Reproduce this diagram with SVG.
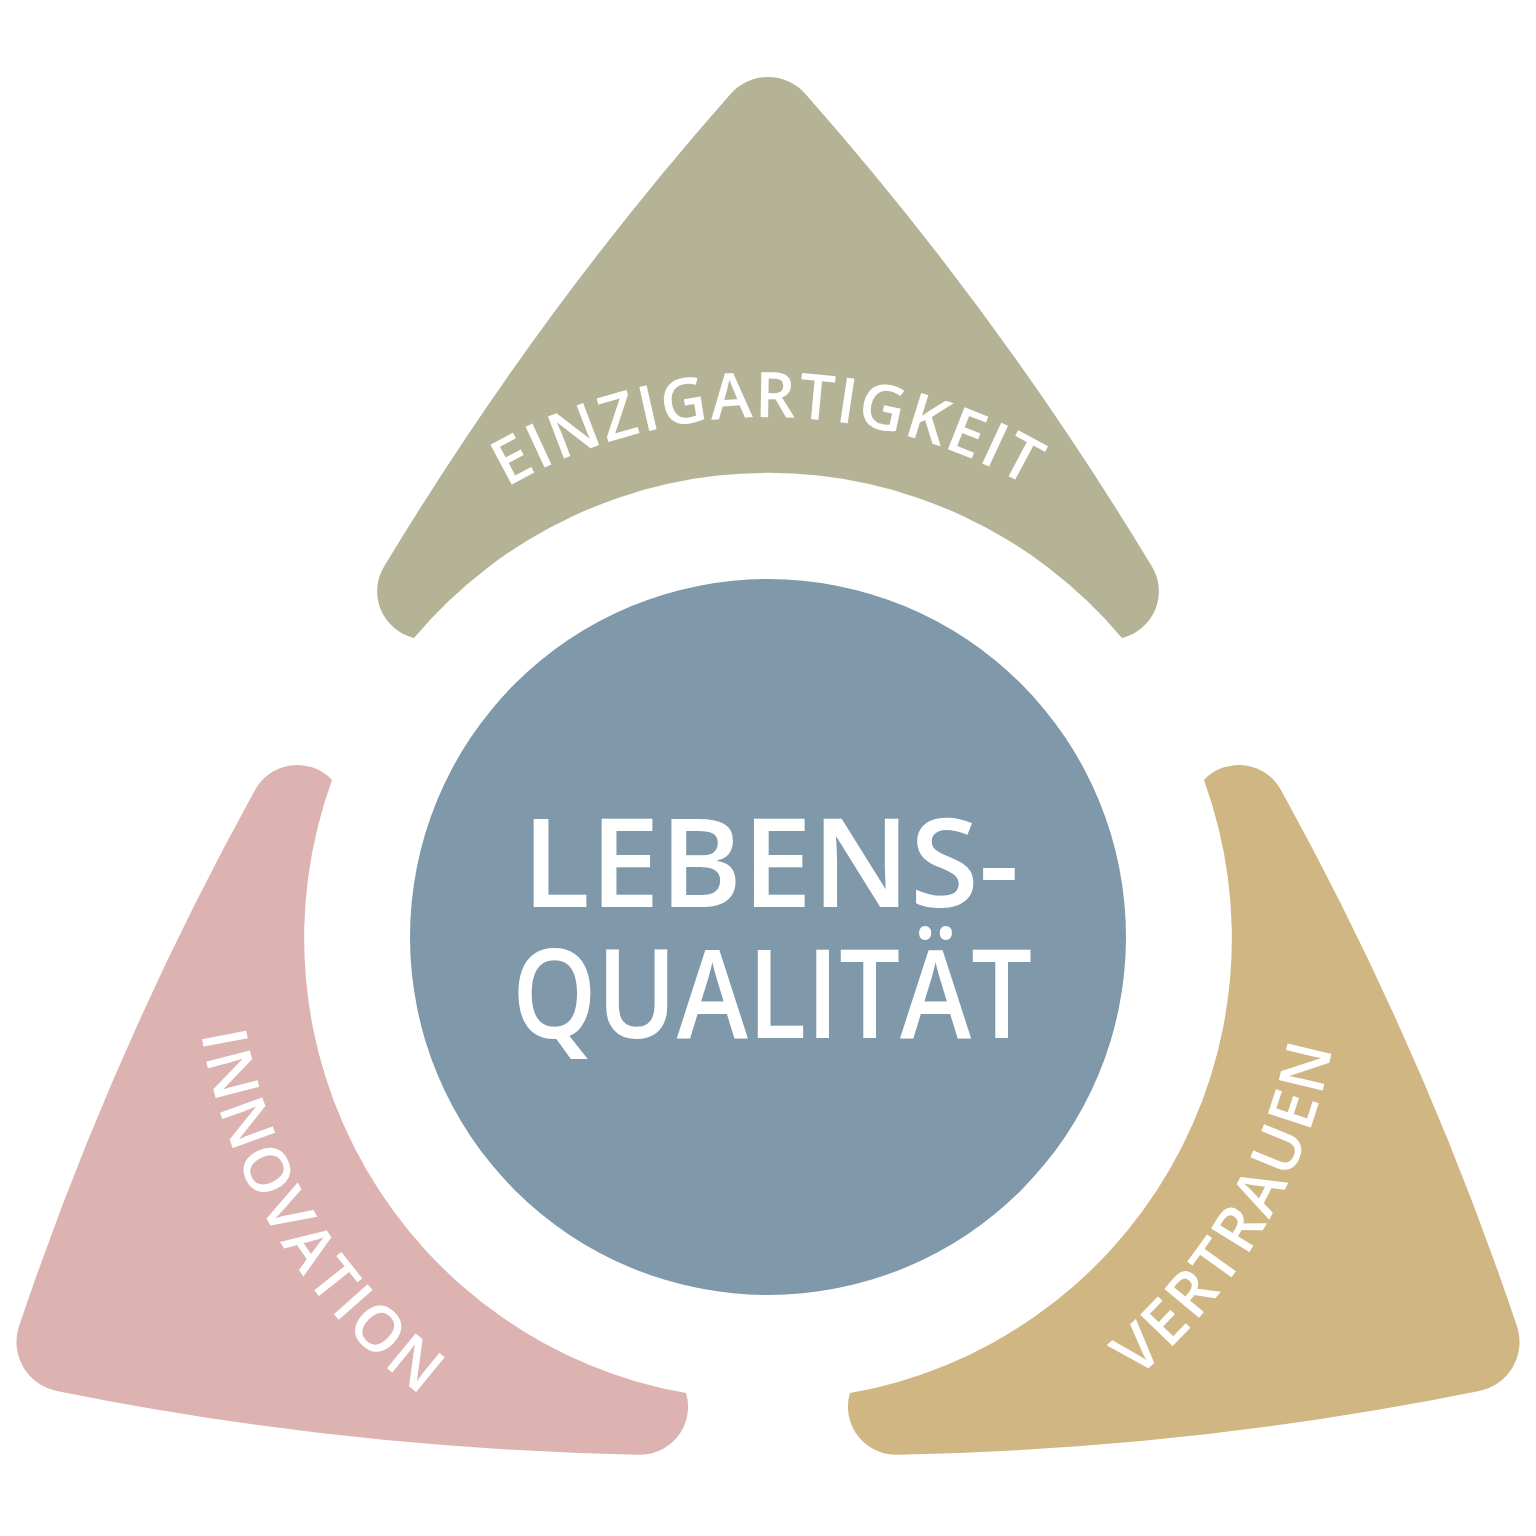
<svg xmlns="http://www.w3.org/2000/svg" xmlns:xlink="http://www.w3.org/1999/xlink" width="1536" height="1536" viewBox="0 0 1536 1536">
<style>
.bg{fill:#ffffff}
.olive{fill:#B5B395}
.rose{fill:#DCB3B1}
.sand{fill:#D0B682}
.core{fill:#7F98AA}
.lbl{fill:#ffffff;font-family:"Open Sans","Liberation Sans",sans-serif;font-size:63px;font-weight:600}
.big{fill:#ffffff;font-family:"Open Sans","Liberation Sans",sans-serif;font-size:124px;font-weight:600}
</style>
<defs>
<path id="seg" d="M 414,638 A 462 462 0 0 1 1122,638 A 48 48 0 0 0 1151,565 Q 998.5,312.6 805.5,93.9 A 50 50 0 0 0 730.5,93.9 Q 537.5,312.6 385,565 A 48 48 0 0 0 414,638 Z"/>
<path id="arcTop" d="M 248,937 A 520 520 0 0 1 1288,937"/>
<path id="arcLeft" d="M 270.0,649.5 A 575 575 0 0 0 768,1512"/>
<path id="arcRight" d="M 768,1512 A 575 575 0 0 0 1266.0,649.5"/>
</defs>
<rect class="bg" x="0" y="0" width="1536" height="1536"/>
<g id="connectors"/>
<g id="node-einzigartigkeit">
<use xlink:href="#seg" href="#seg" class="olive"/>
<text class="lbl" letter-spacing="2"><textPath xlink:href="#arcTop" href="#arcTop" startOffset="50%" text-anchor="middle">EINZIGARTIGKEIT</textPath></text>
</g>
<g id="node-vertrauen">
<use xlink:href="#seg" href="#seg" class="sand" transform="rotate(120 768 937)"/>
<text class="lbl" letter-spacing="3.5"><textPath xlink:href="#arcRight" href="#arcRight" startOffset="49.6%" text-anchor="middle">VERTRAUEN</textPath></text>
</g>
<g id="node-innovation">
<use xlink:href="#seg" href="#seg" class="rose" transform="rotate(240 768 937)"/>
<text class="lbl" letter-spacing="3.5"><textPath xlink:href="#arcLeft" href="#arcLeft" startOffset="51.2%" text-anchor="middle">INNOVATION</textPath></text>
</g>
<g id="node-lebensqualitaet">
<circle class="core" cx="768" cy="937" r="358"/>
<text class="big" x="522" y="907" textLength="497" lengthAdjust="spacingAndGlyphs">LEBENS-</text>
<text class="big" x="512" y="1038" textLength="520" lengthAdjust="spacingAndGlyphs">QUALITÄT</text>
</g>
</svg>
